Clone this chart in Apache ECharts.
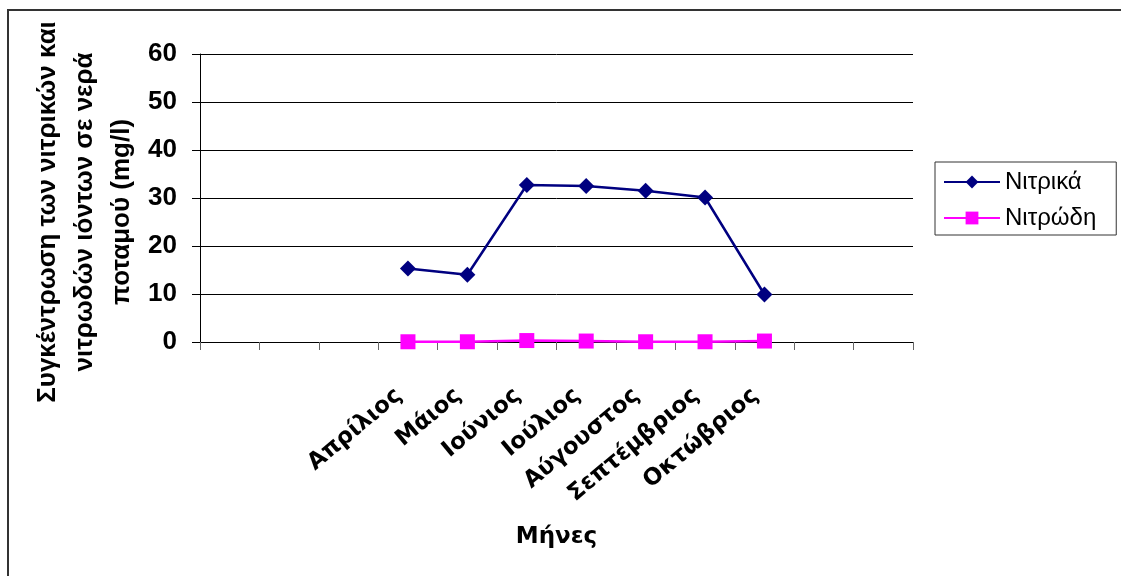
<!DOCTYPE html>
<html>
<head>
<meta charset="utf-8">
<script src="https://cdn.jsdelivr.net/npm/echarts@6/dist/echarts.min.js"></script>
<style>
html,body{margin:0;padding:0;background:#fff;}
#c{width:1121px;height:576px;}
</style>
</head>
<body>
<div id="c"></div>
<script>
// Data
const categories = ['', '', '', 'Απρίλιος', 'Μάιος', 'Ιούνιος', 'Ιούλιος', 'Αύγουστος', 'Σεπτέμβριος', 'Οκτώβριος', '', ''];
const nitrates = [null, null, null, 15.3, 14.0, 32.7, 32.5, 31.5, 30.1, 9.9, null, null];
const nitrites = [null, null, null, 0.05, 0.05, 0.3, 0.2, 0.05, 0.05, 0.2, null, null];
const seriesNames = ['Νιτρικά', 'Νιτρώδη'];
const yTitle = 'Συγκέντρωση των νιτρικών και\nνιτρωδών ιόντων σε νερά\nποταμού (mg/l)';
const xTitle = 'Μήνες';
const yTicks = {min: 0, max: 60, interval: 10};

const chart = echarts.init(document.getElementById('c'), null, {renderer: 'canvas'});
chart.setOption({
  animation: false,
  backgroundColor: '#fff',
  grid: {left: 200, right: 208, top: 54, bottom: 234, containLabel: false},
  graphic: [
    {type: 'rect', shape: {x: 8, y: 10, width: 1130, height: 600}, style: {fill: 'none', stroke: '#333', lineWidth: 2}, silent: true},
    {type: 'text', x: 85, y: 212, rotation: Math.PI / 2,
     style: {text: yTitle, font: 'bold 26px "Liberation Sans", Arial, sans-serif', fill: '#000', align: 'center', verticalAlign: 'middle', lineHeight: 37}}
  ],
  legend: {
    left: 935, top: 162, orient: 'vertical',
    backgroundColor: '#fff', borderColor: '#333', borderWidth: 1,
    padding: [8, 20, 5, 8], itemGap: 12, itemWidth: 56, itemHeight: 16,
    textStyle: {fontFamily: '"Liberation Sans", Arial, sans-serif', fontSize: 24, color: '#000'},
    data: seriesNames
  },
  xAxis: {
    type: 'category', data: categories, boundaryGap: true,
    name: xTitle, nameLocation: 'middle', nameGap: 184,
    nameTextStyle: {fontFamily: '"DejaVu Sans", sans-serif', fontWeight: 'bold', fontSize: 23, color: '#000'},
    axisLine: {lineStyle: {color: '#000', width: 1}},
    axisTick: {show: true, length: 8, lineStyle: {color: '#666'}, interval: 0},
    axisLabel: {interval: 0, rotate: 40, margin: 43, padding: [0, 12, 0, 0], fontFamily: '"DejaVu Sans", sans-serif', fontWeight: 'bold', fontSize: 23, color: '#000'},
    splitLine: {show: false}
  },
  yAxis: {
    type: 'value', min: yTicks.min, max: yTicks.max, interval: yTicks.interval,
    axisLine: {show: true, lineStyle: {color: '#000', width: 1}},
    axisTick: {show: true, length: 8, lineStyle: {color: '#000'}},
    axisLabel: {margin: 23, fontFamily: '"Liberation Sans", Arial, sans-serif', fontWeight: 'bold', fontSize: 26, color: '#000'},
    splitLine: {show: true, lineStyle: {color: '#000', width: 1}}
  },
  series: [
    {name: seriesNames[0], type: 'line', data: nitrates, symbol: 'diamond', symbolSize: 16,
     itemStyle: {color: '#000080'}, lineStyle: {color: '#000080', width: 2.5}, connectNulls: false},
    {name: seriesNames[1], type: 'line', data: nitrites, symbol: 'rect', symbolSize: 15,
     itemStyle: {color: '#FF00FF'}, lineStyle: {color: '#FF00FF', width: 2.5}, connectNulls: false}
  ]
});
</script>
</body>
</html>
